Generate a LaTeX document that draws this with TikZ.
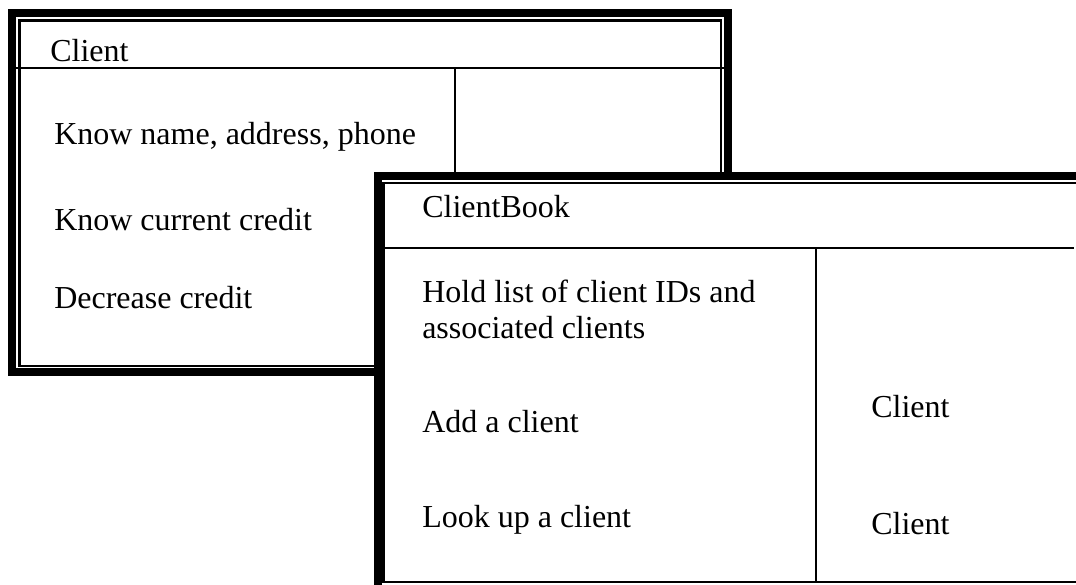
\documentclass[tikz,border=0pt]{standalone}
\usepackage{fontspec}
\setmainfont{Liberation Serif}
\begin{document}
\begin{tikzpicture}[x=0.75pt,y=-0.75pt,
  thickb/.style={draw=black,line width=6pt,line join=miter},
  thinb/.style={draw=black,line width=1.6pt},
  lbl/.style={anchor=base west,inner sep=0pt,font=\fontsize{24}{28}\selectfont}]
\useasboundingbox (0,0) rectangle (1076,585);
\clip (0,0) rectangle (1076,585);
% Client card
\draw[thickb] (12,13) rectangle (728,372);
\draw[thinb] (19.5,20.5) rectangle (721,366);
\draw[thinb] (16,68) -- (724,68);
\draw[thinb] (455,68) -- (455,178);
\node[lbl] (cTitle) at (50,62) {Client};
\node[lbl] (cR1) at (54,145) {Know name, address, phone};
\node[lbl] (cR2) at (54,230) {Know current credit};
\node[lbl] (cR3) at (54,308) {Decrease credit};
% ClientBook card
\fill[white] (377.5,176) rectangle (1090,600);
\draw[thickb] (377.5,600) -- (377.5,176) -- (1090,176);
\draw[thinb] (1090,183) -- (383.5,183) -- (383.5,582) -- (1090,582);
\draw[thinb] (381,248) -- (1074,248);
\draw[thinb] (816,248) -- (816,582);
\node[lbl] (bTitle) at (422,217) {ClientBook};
\node[lbl] (bR1a) at (422,302) {Hold list of client IDs and};
\node[lbl] (bR1b) at (422,338) {associated clients};
\node[lbl] (bR2) at (422,432) {Add a client};
\node[lbl] (bR3) at (422,527) {Look up a client};
\node[lbl] (bC2) at (871,417) {Client};
\node[lbl] (bC3) at (871,534) {Client};
\end{tikzpicture}
\end{document}
